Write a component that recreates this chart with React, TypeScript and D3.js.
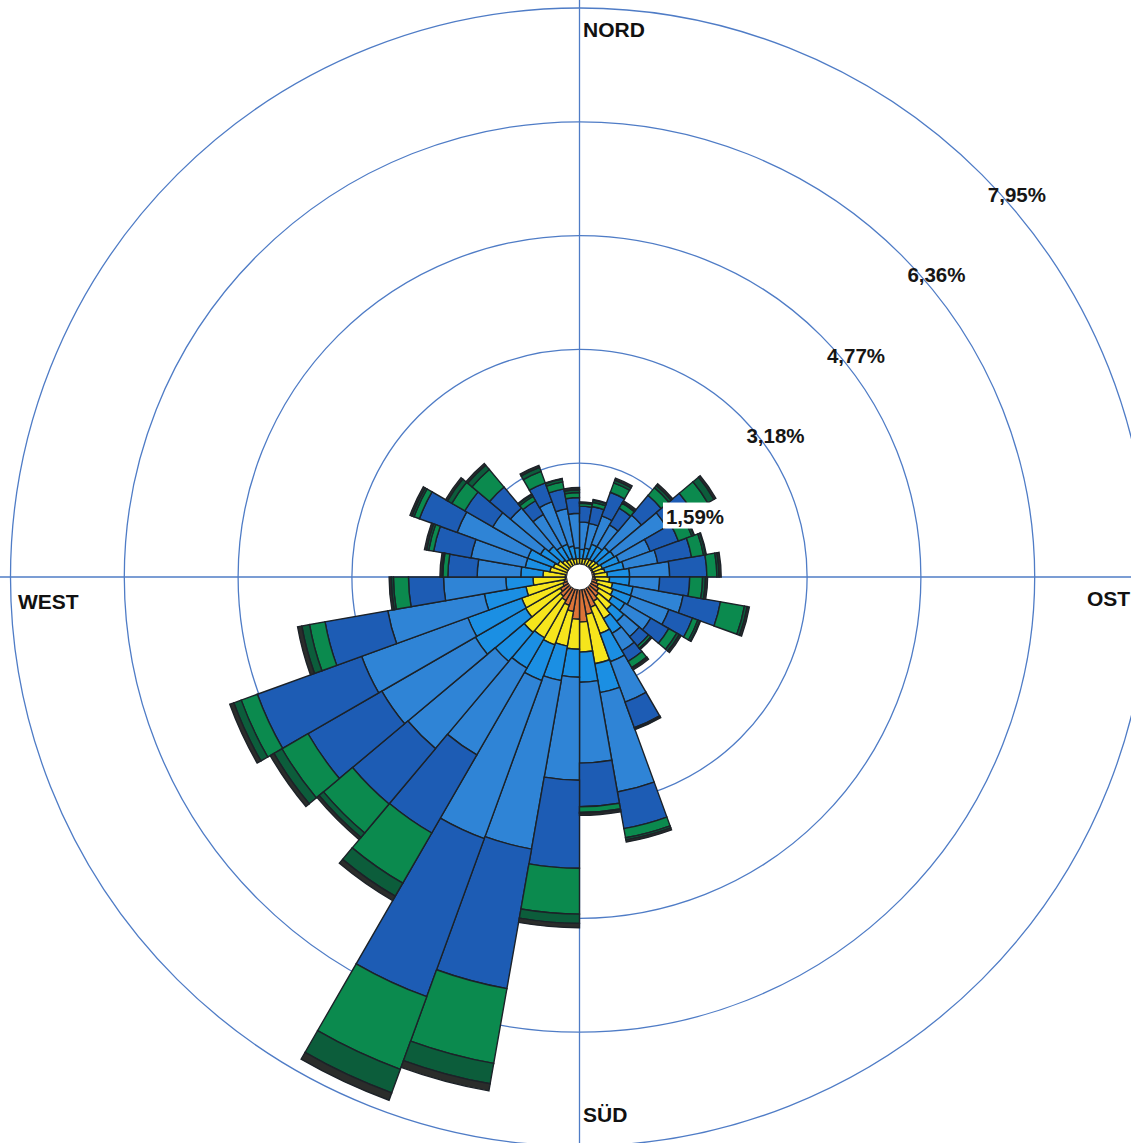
import React from 'react';
import * as d3 from 'd3';

const W = 1131;
const H = 1143;
const CX = 579.5;
const CY = 577;

// Sector start angles (degrees clockwise from north), 10° sectors
const sectorStart = [0, 10, 20, 30, 40, 50, 60, 70, 80, 90, 100, 110, 120, 130, 140, 150, 160, 170,
  180, 190, 200, 210, 220, 230, 240, 250, 260, 270, 280, 290, 300, 310, 320, 330, 340, 350];

// Frequency (%) per speed class and sector (inner → outer)
const cls1 = [0.18, 0.18, 0.18, 0.18, 0.20, 0.20, 0.20, 0.21, 0.21, 0.22, 0.25, 0.28, 0.31, 0.35, 0.39, 0.45, 0.53, 0.63,
  0.59, 0.49, 0.42, 0.38, 0.35, 0.31, 0.25, 0.22, 0.20, 0.20, 0.18, 0.18, 0.18, 0.18, 0.18, 0.18, 0.18, 0.18];
const cls2 = [0.08, 0.08, 0.10, 0.10, 0.10, 0.11, 0.14, 0.15, 0.18, 0.20, 0.22, 0.22, 0.22, 0.24, 0.28, 0.39, 0.70, 0.42,
  0.42, 0.49, 0.59, 0.60, 0.66, 0.56, 0.61, 0.54, 0.45, 0.31, 0.24, 0.21, 0.17, 0.13, 0.10, 0.10, 0.08, 0.08];
const cls3 = [0.13, 0.15, 0.21, 0.21, 0.24, 0.25, 0.25, 0.27, 0.31, 0.28, 0.29, 0.27, 0.20, 0.22, 0.24, 0.42, 0.41, 0.42,
  0.39, 0.49, 0.53, 0.49, 0.53, 0.81, 0.80, 0.59, 0.38, 0.31, 0.35, 0.38, 0.28, 0.25, 0.21, 0.21, 0.18, 0.15];
const cls4 = [0.38, 0.35, 0.42, 0.35, 0.59, 0.84, 0.46, 0.48, 0.56, 0.42, 0.71, 0.56, 0.42, 0.28, 0.28, 0.60, 1.41, 1.13,
  1.44, 2.39, 2.35, 1.40, 1.59, 1.51, 1.58, 1.37, 0.87, 0.61, 0.77, 1.05, 0.77, 0.70, 0.52, 0.63, 0.53, 0.48];
const cls5 = [0.22, 0.24, 0.35, 0.27, 0.36, 0.42, 0.42, 0.48, 0.52, 0.42, 0.53, 0.35, 0.29, 0.17, 0.17, 0.38, 0.52, 0.61,
  1.23, 1.98, 2.35, 1.26, 1.01, 1.19, 1.55, 0.89, 0.49, 0.41, 0.53, 0.56, 0.45, 0.38, 0.22, 0.28, 0.28, 0.22];
const cls6 = [0.04, 0.06, 0.14, 0.08, 0.14, 0.25, 0.20, 0.17, 0.14, 0.18, 0.34, 0.08, 0.13, 0.04, 0.10, 0.01, 0.13, 0.08,
  0.64, 1.06, 1.08, 0.81, 0.53, 0.42, 0.24, 0.22, 0.21, 0.07, 0.07, 0.08, 0.21, 0.32, 0.07, 0.17, 0.10, 0.07];
const cls7 = [0.01, 0.03, 0.04, 0.01, 0.04, 0.10, 0.03, 0.03, 0.03, 0.04, 0.04, 0.03, 0.04, 0.01, 0.01, 0.01, 0.03, 0.01,
  0.13, 0.29, 0.35, 0.21, 0.08, 0.13, 0.11, 0.11, 0.03, 0.01, 0.03, 0.03, 0.07, 0.08, 0.03, 0.06, 0.04, 0.04];
const cls8 = [0.01, 0.01, 0.03, 0.03, 0.03, 0.03, 0.01, 0.01, 0.03, 0.03, 0.03, 0.01, 0.03, 0.01, 0.03, 0.01, 0.03, 0.03,
  0.06, 0.10, 0.11, 0.07, 0.04, 0.06, 0.06, 0.06, 0.03, 0.03, 0.03, 0.03, 0.03, 0.03, 0.01, 0.03, 0.01, 0.03];

const classKeys = ['c1', 'c2', 'c3', 'c4', 'c5', 'c6', 'c7', 'c8'];
const classSeries = [cls1, cls2, cls3, cls4, cls5, cls6, cls7, cls8];
const classColors = ['#dc7438', '#f6e51c', '#1b8fe3', '#2f84d6', '#1d5cb4', '#0b8a4e', '#0c5d3b', '#2b2d2b'];

const ringValues = [1.59, 3.18, 4.77, 6.36, 7.95];
const ringLabels = ['1,59%', '3,18%', '4,77%', '6,36%', '7,95%'];

const FONT = "'Liberation Sans', Arial, Helvetica, sans-serif";

export default function App() {
  const r = d3.scaleLinear().domain([0, 7.95]).range([0, 569]);
  const rows = sectorStart.map((s, i) => {
    const row: any = { dir: s };
    classKeys.forEach((k, j) => { row[k] = classSeries[j][i]; });
    return row;
  });
  const stack = d3.stack().keys(classKeys)(rows);
  const toRad = (deg: number) => (deg * Math.PI) / 180;
  const arc = d3.arc();

  const ringStroke = '#4f7cc6';

  return (
    <svg width={W} height={H} style={{ position: 'absolute', left: 0, top: 0, background: '#fff' }}>
      <rect x={0} y={0} width={W} height={H} fill="#fff" />
      {/* axes */}
      <line x1={0} y1={CY} x2={W} y2={CY} stroke={ringStroke} strokeWidth={1.3} />
      <line x1={CX} y1={0} x2={CX} y2={H} stroke={ringStroke} strokeWidth={1.3} />
      {/* rings */}
      {ringValues.map((v, i) => (
        <circle key={i} cx={CX} cy={CY} r={r(v)} fill="none" stroke={ringStroke} strokeWidth={1.3} />
      ))}
      {/* bars */}
      <g transform={`translate(${CX},${CY})`}>
        {stack.map((layer, li) => (
          <g key={li}>
            {layer.map((d: any, i: number) => {
              const a0 = toRad(sectorStart[i]);
              const path = arc({
                innerRadius: r(d[0]),
                outerRadius: r(d[1]),
                startAngle: a0,
                endAngle: a0 + toRad(10),
              } as any);
              return (
                <path key={i} d={path || ''} fill={classColors[li]} stroke="#1c2228" strokeWidth={1.4}
                  strokeLinejoin="miter" />
              );
            })}
          </g>
        ))}
        <circle cx={0} cy={0} r={13} fill="#fff" stroke="#2a2a2a" strokeWidth={1} />
      </g>
      {/* ring labels */}
      {ringValues.map((v, i) => {
        const rr = r(v);
        const x = CX + rr * Math.SQRT1_2 + 6;
        const y = CY - rr * Math.SQRT1_2 + 27;
        return (
          <g key={i}>
            {i === 0 && <rect x={x - 3} y={y - 21} width={64} height={26} fill="#fff" />}
            <text x={x} y={y} fontFamily={FONT} fontWeight="bold" fontSize={20.5} fill="#161616">
              {ringLabels[i]}
            </text>
          </g>
        );
      })}
      {/* cardinal labels */}
      <text x={583} y={37} fontFamily={FONT} fontWeight="bold" fontSize={21} fill="#111">NORD</text>
      <text x={583} y={1122} fontFamily={FONT} fontWeight="bold" fontSize={21} fill="#111">SÜD</text>
      <text x={18} y={609} fontFamily={FONT} fontWeight="bold" fontSize={21} fill="#111">WEST</text>
      <text x={1087} y={606} fontFamily={FONT} fontWeight="bold" fontSize={21} fill="#111">OST</text>
    </svg>
  );
}
